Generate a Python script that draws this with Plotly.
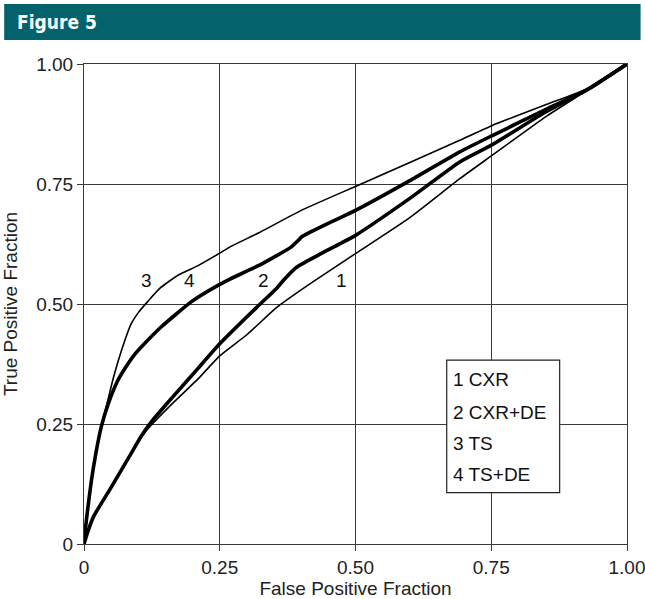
import plotly.graph_objects as go

# ROC curves (False Positive Fraction -> True Positive Fraction)
cxr_x = [0, 0.0074, 0.018, 0.05, 0.085, 0.105, 0.125, 0.164, 0.21, 0.25, 0.301, 0.355, 0.42, 0.5, 0.6, 0.692, 0.752, 0.85, 0.926, 1.0]
cxr_y = [0, 0.027, 0.058, 0.118, 0.185, 0.222, 0.249, 0.294, 0.344, 0.392, 0.437, 0.493, 0.545, 0.605, 0.68, 0.761, 0.81, 0.89, 0.945, 1.0]

cxrde_x = [0, 0.0074, 0.018, 0.05, 0.085, 0.105, 0.125, 0.164, 0.21, 0.25, 0.318, 0.355, 0.367, 0.392, 0.44, 0.5, 0.6, 0.692, 0.752, 0.85, 0.926, 1.0]
cxrde_y = [0, 0.027, 0.058, 0.118, 0.185, 0.224, 0.256, 0.307, 0.366, 0.417, 0.493, 0.533, 0.549, 0.577, 0.607, 0.643, 0.72, 0.796, 0.832, 0.9, 0.946, 1.0]

ts_x = [0, 0.003, 0.006, 0.0135, 0.022, 0.032, 0.044, 0.055, 0.069, 0.087, 0.10, 0.118, 0.139, 0.173, 0.21, 0.25, 0.269, 0.325, 0.40, 0.5, 0.6, 0.692, 0.752, 0.85, 0.926, 1.0]
ts_y = [0, 0.035, 0.065, 0.131, 0.19, 0.245, 0.30, 0.35, 0.403, 0.459, 0.482, 0.506, 0.532, 0.56, 0.58, 0.606, 0.619, 0.65, 0.695, 0.745, 0.795, 0.841, 0.872, 0.915, 0.948, 1.0]

tsde_x = [0, 0.003, 0.006, 0.0135, 0.022, 0.032, 0.044, 0.062, 0.075, 0.092, 0.112, 0.142, 0.198, 0.25, 0.269, 0.325, 0.382, 0.395, 0.401, 0.45, 0.5, 0.6, 0.692, 0.752, 0.85, 0.926, 1.0]
tsde_y = [0, 0.035, 0.065, 0.131, 0.19, 0.245, 0.29, 0.34, 0.365, 0.393, 0.418, 0.452, 0.505, 0.541, 0.552, 0.582, 0.619, 0.633, 0.64, 0.668, 0.695, 0.757, 0.817, 0.851, 0.905, 0.946, 1.0]

series_names = ["1 CXR", "2 CXR+DE", "3 TS", "4 TS+DE"]
curve_labels = ["1", "2", "3", "4"]
label_x = [0.475, 0.33, 0.115, 0.195]
label_y = [0.549, 0.549, 0.549, 0.549]

tick_vals = [0, 0.25, 0.5, 0.75, 1.0]
tick_text = ["0", "0.25", "0.50", "0.75", "1.00"]

FONT = "Liberation Sans, Arial, Helvetica, sans-serif"
GRID = "#3a3a3a"
FS = 19

fig = go.Figure()
data = [(cxr_x, cxr_y, 1.6), (cxrde_x, cxrde_y, 3.6), (ts_x, ts_y, 1.6), (tsde_x, tsde_y, 3.6)]
for (xs, ys, w), name in zip(data, series_names):
    fig.add_trace(go.Scatter(x=xs, y=ys, mode="lines", name=name,
                             line=dict(color="black", width=w, shape="spline", smoothing=0.5),
                             showlegend=False))

for t, lx, ly in zip(curve_labels, label_x, label_y):
    fig.add_annotation(x=lx, y=ly, text=t, showarrow=False, xref="x", yref="y",
                       font=dict(size=FS, color="#111", family=FONT))

# Title bar
fig.add_shape(type="rect", xref="paper", yref="paper", x0=-0.147, x1=1.025, y0=1.05, y1=1.125,
              fillcolor="#04626d", line=dict(width=0), layer="above")
fig.add_annotation(xref="paper", yref="paper", x=-0.127, y=1.088, xanchor="left", yanchor="middle",
                   text="<b>Figure 5</b>", showarrow=False,
                   font=dict(size=19, color="white", family="Liberation Sans Narrow, DejaVu Sans Condensed, Arial Narrow, sans-serif"))

# Legend box
fig.add_shape(type="rect", xref="paper", yref="paper", x0=0.668, x1=0.876, y0=0.107, y1=0.383,
              fillcolor="white", line=dict(color="#222", width=1.2), layer="above")
leg_y = [0.342, 0.275, 0.21, 0.144]
for name, yy in zip(series_names, leg_y):
    fig.add_annotation(xref="paper", yref="paper", x=0.675, y=yy, xanchor="left", yanchor="middle",
                       text=name, showarrow=False, font=dict(size=FS, color="#111", family=FONT))

axis_common = dict(range=[0, 1], tickvals=tick_vals, ticktext=tick_text, showgrid=True,
                   gridcolor=GRID, gridwidth=1, showline=True, linecolor=GRID, linewidth=1,
                   mirror=True, ticks="outside", ticklen=6, tickcolor=GRID, zeroline=False,
                   automargin=False, ticklabeloverflow="allow",
                   tickfont=dict(size=FS, color="#222", family=FONT))

fig.update_layout(
    width=645, height=599,
    margin=dict(l=84, r=18, t=64, b=55),
    paper_bgcolor="white", plot_bgcolor="white",
    xaxis=dict(**axis_common, title=dict(text="False Positive Fraction",
                                         font=dict(size=FS, color="#222", family=FONT))),
    yaxis=dict(**axis_common, title=dict(text="True Positive Fraction",
                                         font=dict(size=FS, color="#222", family=FONT))),
)

fig.write_html("out.html")
